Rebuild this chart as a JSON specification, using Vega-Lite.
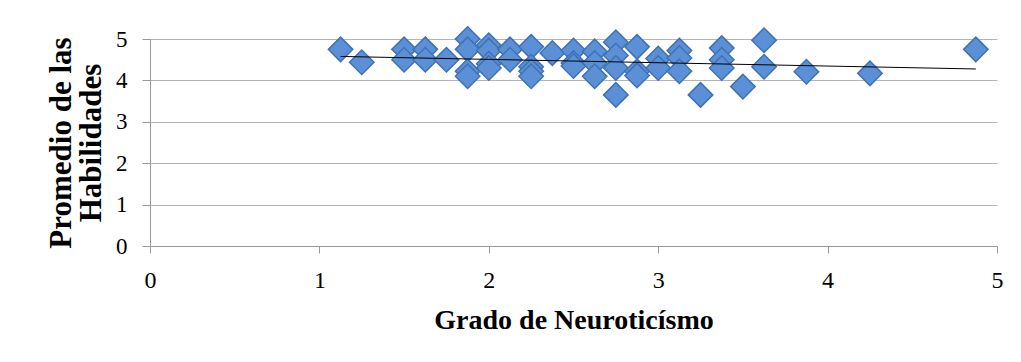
{
  "$schema": "https://vega.github.io/schema/vega-lite/v6.json",
  "width": 847,
  "height": 207,
  "autosize": "none",
  "padding": {"left": 150, "top": 39, "right": 24, "bottom": 116},
  "background": "white",
  "config": {
    "view": {"stroke": null},
    "font": "Liberation Serif",
    "axis": {
      "labelFont": "Liberation Serif",
      "titleFont": "Liberation Serif",
      "labelFontSize": 23,
      "labelColor": "#000000",
      "titleColor": "#000000",
      "domainColor": "#9a9a9a",
      "tickColor": "#9a9a9a",
      "gridColor": "#b4b4b4",
      "domainWidth": 1,
      "tickWidth": 1,
      "gridWidth": 1
    }
  },
  "data": {
    "values": [
      {"x": 1.125, "y": 4.75},
      {"x": 1.25, "y": 4.44},
      {"x": 1.5, "y": 4.75},
      {"x": 1.5, "y": 4.5},
      {"x": 1.625, "y": 4.75},
      {"x": 1.625, "y": 4.5},
      {"x": 1.75, "y": 4.5},
      {"x": 1.875, "y": 5.0},
      {"x": 1.875, "y": 4.75},
      {"x": 1.875, "y": 4.22},
      {"x": 1.875, "y": 4.1},
      {"x": 2.0, "y": 4.85},
      {"x": 2.0, "y": 4.72},
      {"x": 2.0, "y": 4.4},
      {"x": 2.0, "y": 4.3},
      {"x": 2.125, "y": 4.75},
      {"x": 2.125, "y": 4.5},
      {"x": 2.25, "y": 4.81},
      {"x": 2.25, "y": 4.33},
      {"x": 2.25, "y": 4.22},
      {"x": 2.25, "y": 4.1},
      {"x": 2.375, "y": 4.66},
      {"x": 2.5, "y": 4.72},
      {"x": 2.5, "y": 4.42},
      {"x": 2.5, "y": 4.35},
      {"x": 2.625, "y": 4.7},
      {"x": 2.625, "y": 4.42},
      {"x": 2.625, "y": 4.1},
      {"x": 2.75, "y": 4.92},
      {"x": 2.75, "y": 4.6},
      {"x": 2.75, "y": 4.3},
      {"x": 2.75, "y": 3.65},
      {"x": 2.875, "y": 4.81},
      {"x": 2.875, "y": 4.22},
      {"x": 2.875, "y": 4.12},
      {"x": 3.0, "y": 4.53},
      {"x": 3.0, "y": 4.3},
      {"x": 3.125, "y": 4.72},
      {"x": 3.125, "y": 4.54},
      {"x": 3.125, "y": 4.22},
      {"x": 3.25, "y": 3.65},
      {"x": 3.375, "y": 4.78},
      {"x": 3.375, "y": 4.5},
      {"x": 3.375, "y": 4.3},
      {"x": 3.5, "y": 3.85},
      {"x": 3.625, "y": 4.97},
      {"x": 3.625, "y": 4.33},
      {"x": 3.875, "y": 4.21},
      {"x": 4.25, "y": 4.17},
      {"x": 4.875, "y": 4.75}
    ]
  },
  "layer": [
    {
      "mark": {"type": "point", "shape": "diamond", "filled": true, "size": 600, "fill": "#5b8fd6", "stroke": "#3f72b5", "strokeWidth": 1.5, "opacity": 1},
      "encoding": {
        "x": {"field": "x", "type": "quantitative", "scale": {"domain": [0, 5], "nice": false},
              "axis": {"values": [0, 1, 2, 3, 4, 5], "format": "d", "labelFlush": false, "grid": false, "tickSize": 7, "labelFontSize": 24, "labelPadding": 15, "title": "Grado de Neuroticísmo", "titleFontSize": 28, "titleFontWeight": "bold", "titlePadding": 14}},
        "y": {"field": "y", "type": "quantitative", "scale": {"domain": [0, 5], "nice": false},
              "axis": {"values": [0, 1, 2, 3, 4, 5], "format": "d", "labelFlush": false, "grid": true, "tickSize": 8, "labelPadding": 15, "title": ["Promedio de las", "Habilidades"], "titleFontSize": 31, "titleLineHeight": 30, "titleFontWeight": "bold", "titlePadding": 8}}
      }
    },
    {
      "transform": [{"regression": "y", "on": "x"}],
      "mark": {"type": "line", "color": "#000000", "strokeWidth": 1},
      "encoding": {
        "x": {"field": "x", "type": "quantitative"},
        "y": {"field": "y", "type": "quantitative"}
      }
    }
  ]
}
